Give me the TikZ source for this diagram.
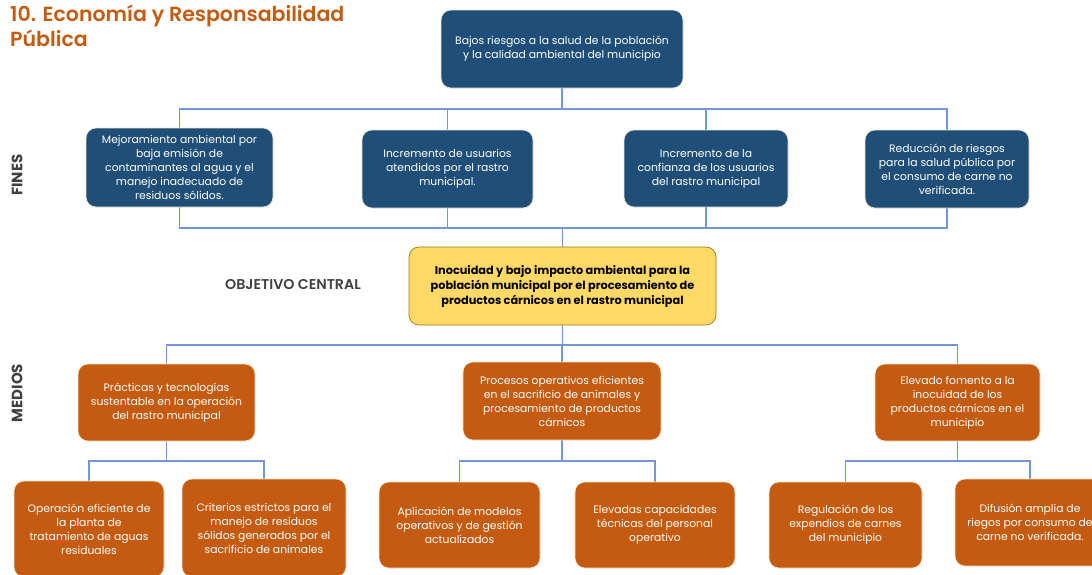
\documentclass[tikz,border=0pt]{standalone}
\usepackage{fontspec}
\setmainfont{Poppins}
\newfontfamily\medfont{Poppins SemiBold}
\usetikzlibrary{backgrounds}
\definecolor{finblue}{HTML}{1F4E79}
\definecolor{medorange}{HTML}{C55A11}
\definecolor{objyellow}{HTML}{FFD966}
\definecolor{objedge}{HTML}{9C7A12}
\definecolor{boxedge}{HTML}{EFE6CC}
\definecolor{linkblue}{HTML}{7396DA}
\definecolor{labelgray}{HTML}{404040}

\begin{document}
\begin{tikzpicture}[x=1pt,y=-1pt,
  box/.style={rounded corners=10pt,draw=boxedge,line width=0.7pt,text=white,align=center,inner sep=0pt,font=\fontsize{10.8}{14}\selectfont},
  boxsize/.style 2 args={minimum width=#1pt,minimum height=#2pt},
  finbox/.style={box,fill=finblue},
  medbox/.style={box,fill=medorange},
  objbox/.style={box,fill=objyellow,draw=objedge,text=black,font=\bfseries\fontsize{11.3}{15}\selectfont},
  link/.style={draw=linkblue,line width=1.1pt},
  sidelabel/.style={text=labelgray,font=\bfseries\fontsize{15}{15}\selectfont}]
\useasboundingbox (0,0) rectangle (1092,574);
% title and side labels
\node[anchor=north west,align=left,inner sep=0pt,text=medorange,font=\medfont\fontsize{20.5}{25}\selectfont] (title) at (10,4.5) {10. Economía y Responsabilidad\\Pública};
\node[sidelabel,rotate=90] (fines) at (17,175) {FINES};
\node[sidelabel,rotate=90] (medios) at (17,393) {MEDIOS};
\node[text=labelgray,font=\medfont\fontsize{14.2}{15}\selectfont] (objlabel) at (293,285) {OBJETIVO CENTRAL};
% fines
\node[finbox,boxsize={242}{78}] (top) at (562,49) {Bajos riesgos a la salud de la población\\y la calidad ambiental del municipio};
\node[finbox,boxsize={187}{79}] (f1) at (179.5,167.5) {Mejoramiento ambiental por\\baja emisión de\\contaminantes al agua y el\\manejo inadecuado de\\residuos sólidos.};
\node[finbox,boxsize={171}{78}] (f2) at (447.5,169) {Incremento de usuarios\\atendidos por el rastro\\municipal.};
\node[finbox,boxsize={164}{77}] (f3) at (706,168.5) {Incremento de la\\confianza de los usuarios\\del rastro municipal};
\node[finbox,boxsize={164}{78}] (f4) at (947,169) {Reducción de riesgos\\para la salud pública por\\el consumo de carne no\\verificada.};
% objetivo central
\node[objbox,boxsize={307}{78}] (obj) at (562.5,286) {Inocuidad y bajo impacto ambiental para la\\población municipal por el procesamiento de\\productos cárnicos en el rastro municipal};
% medios
\node[medbox,boxsize={177}{77}] (m1) at (166.5,402.5) {Prácticas y tecnologías\\sustentable en la operación\\del rastro municipal};
\node[medbox,boxsize={198}{78}] (m2) at (562,401) {Procesos operativos eficientes\\en el sacrificio de animales y\\procesamiento de productos\\cárnicos};
\node[medbox,boxsize={165}{77}] (m3) at (957.5,402.5) {Elevado fomento a la\\inocuidad de los\\productos cárnicos en el\\municipio};
\node[medbox,boxsize={150}{96}] (b1) at (89,529) {Operación eficiente de\\la planta de\\tratamiento de aguas\\residuales};
\node[medbox,boxsize={164}{98}] (b2) at (264,528) {Criterios estrictos para el\\manejo de residuos\\sólidos generados por el\\sacrificio de animales};
\node[medbox,boxsize={161}{86}] (b3) at (459.5,525) {Aplicación de modelos\\operativos y de gestión\\actualizados};
\node[medbox,boxsize={160}{86}] (b4) at (655,525) {Elevadas capacidades\\técnicas del personal\\operativo};
\node[medbox,boxsize={153}{86}] (b5) at (845.5,525) {Regulación de los\\expendios de carnes\\del municipio};
\node[medbox,boxsize={150}{87}] (b6) at (1030,522.5) {Difusión amplia de\\riegos por consumo de\\carne no verificada.};
% connectors
\coordinate (finTop) at (562,109);
\coordinate (finBot) at (562,228);
\coordinate (medTop) at (562,345);
\coordinate (subBar) at (562,461);
\begin{scope}[on background layer]
\foreach \n in {f1,f2,f3,f4} \draw[link] (top.center) |- (finTop -| \n) -- (finBot -| \n) -| (obj.center);
\foreach \n in {m1,m2,m3} \draw[link] (obj.center) |- (medTop -| \n) -- (\n.center);
\foreach \p/\c in {m1/b1,m1/b2,m2/b3,m2/b4,m3/b5,m3/b6} \draw[link] (\p.center) |- (subBar -| \c) -- (\c.center);
\end{scope}
\end{tikzpicture}
\end{document}
